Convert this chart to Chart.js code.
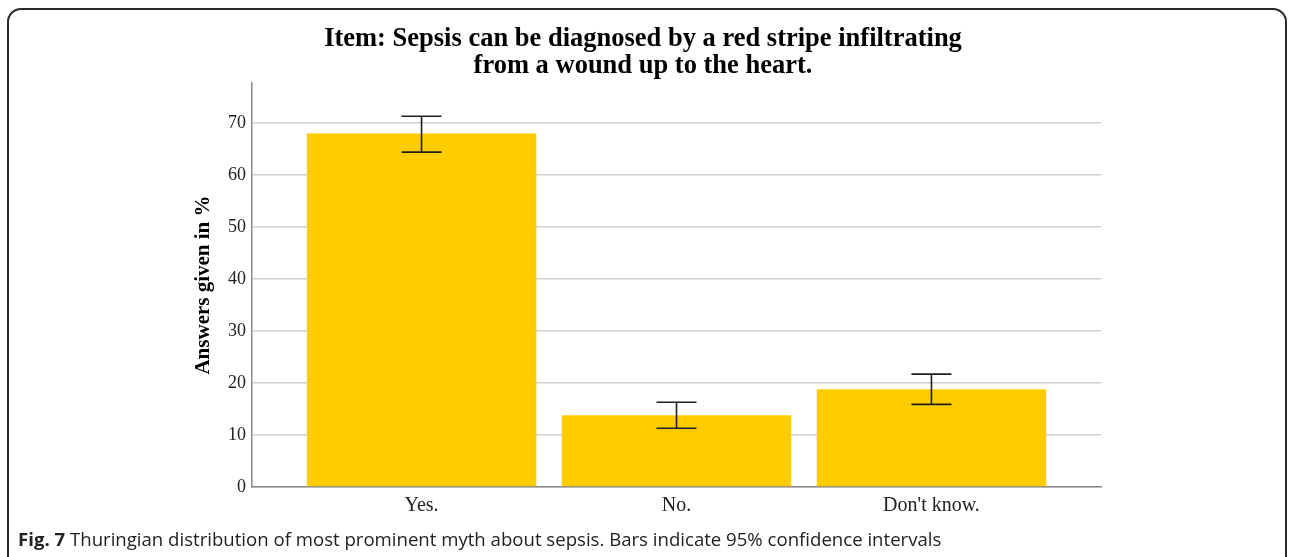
<!DOCTYPE html>
<html>
<head>
<meta charset="utf-8">
<script src="https://cdn.jsdelivr.net/npm/chart.js@4/dist/chart.umd.min.js"></script>
<style>
  html, body { margin: 0; padding: 0; background: #fff; }
  body { width: 1290px; height: 557px; position: relative; overflow: hidden; }
  #frame { position: absolute; left: 7px; top: 8px; width: 1280px; height: 600px; border: 2px solid #2a2a2a; border-radius: 14px; box-sizing: border-box; }
  #wrap { position: absolute; left: 0; top: 0; width: 1290px; height: 557px; }
  #caption { position: absolute; left: 18px; top: 526px; font-family: "Open Sans", sans-serif; font-size: 18.6px; color: #222; white-space: nowrap; }
  #caption b { font-weight: 700; }
</style>
</head>
<body>
<div id="frame"></div>
<div id="wrap"><canvas id="c" width="1290" height="557"></canvas></div>
<div id="caption"><b>Fig. 7</b> Thuringian distribution of most prominent myth about sepsis. Bars indicate 95% confidence intervals</div>
<script>
const categories = ["Yes.", "No.", "Don't know."];
const percentages = [68.0, 13.8, 18.8];
const ciLower = [64.4, 11.3, 15.9];
const ciUpper = [71.3, 16.3, 21.7];
const yTicks = [0, 10, 20, 30, 40, 50, 60, 70];
const titleLines = ["Item: Sepsis can be diagnosed by a red stripe infiltrating", "from a wound up to the heart."];
const yAxisTitle = "Answers given in %";

const errorBars = {
  id: 'errorBars',
  afterDatasetsDraw(chart) {
    const ctx = chart.ctx;
    const xs = chart.scales.x, ys = chart.scales.y;
    ctx.save();
    ctx.strokeStyle = '#1e1e1e';
    ctx.lineWidth = 1.6;
    categories.forEach((c, i) => {
      const x = xs.getPixelForValue(i);
      const yt = ys.getPixelForValue(ciUpper[i]);
      const yb = ys.getPixelForValue(ciLower[i]);
      const hw = 20;
      ctx.beginPath();
      ctx.moveTo(x, yt); ctx.lineTo(x, yb);
      ctx.moveTo(x - hw, yt); ctx.lineTo(x + hw, yt);
      ctx.moveTo(x - hw, yb); ctx.lineTo(x + hw, yb);
      ctx.stroke();
    });
    ctx.restore();
  }
};

new Chart(document.getElementById('c'), {
  type: 'bar',
  data: {
    datasets: [{
      data: categories.map((c, i) => ({ x: i, y: percentages[i] })),
      backgroundColor: '#FFCC00',
      borderWidth: 0,
      barPercentage: 0.9,
      categoryPercentage: 1.0
    }]
  },
  options: {
    responsive: false,
    animation: false,
    layout: { padding: { left: 185, right: 189, top: 0, bottom: 40 } },
    plugins: {
      legend: { display: false },
      tooltip: { enabled: false },
      title: {
        display: true,
        text: titleLines,
        color: '#000',
        font: { family: '"Liberation Serif", "Times New Roman", serif', size: 26.5, weight: 'bold', lineHeight: 1.0 },
        padding: { top: 26, bottom: 4 }
      }
    },
    scales: {
      x: {
        type: 'linear',
        offset: false,
        min: -0.665,
        max: 2.665,
        afterBuildTicks(scale) { scale.ticks = categories.map((c, i) => ({ value: i })); },
        afterFit(scale) { scale.height = 30; },
        ticks: {
          callback: (v) => categories[v],
          color: '#222',
          font: { family: '"Liberation Serif", "Times New Roman", serif', size: 20 },
          padding: -1
        },
        grid: { display: false },
        border: { display: true, color: '#8a8a8a', width: 1.5 }
      },
      y: {
        min: 0,
        max: 77.7,
        afterBuildTicks(scale) { scale.ticks = yTicks.map(v => ({ value: v })); },
        afterFit(scale) { scale.width = 67; },
        ticks: {
          color: '#222',
          font: { family: '"Liberation Serif", "Times New Roman", serif', size: 18 },
          padding: 6
        },
        grid: { color: '#cfcfcf', lineWidth: 1.5, drawTicks: false },
        border: { display: true, color: '#8a8a8a', width: 1.5 },
        title: {
          display: true,
          text: yAxisTitle,
          color: '#000',
          font: { family: '"Liberation Serif", "Times New Roman", serif', size: 21, weight: 'bold' },
          padding: { top: 6, bottom: 0 }
        }
      }
    }
  },
  plugins: [errorBars]
});
</script>
</body>
</html>
